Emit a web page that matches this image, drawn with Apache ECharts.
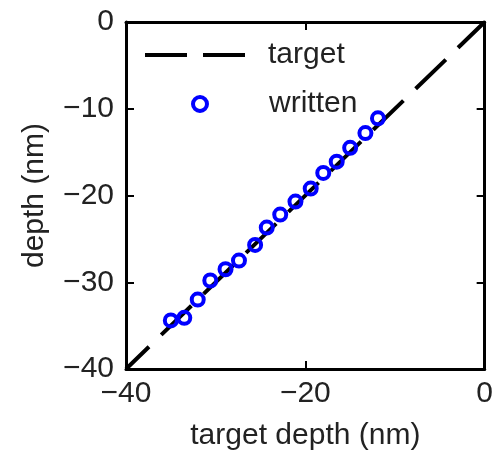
<!DOCTYPE html>
<html>
<head>
<meta charset="utf-8">
<script src="https://cdn.jsdelivr.net/npm/echarts@6/dist/echarts.min.js"></script>
<style>
    html, body { margin: 0; padding: 0; background: #fff; }
    #chart { width: 496px; height: 456px; }
</style>
</head>
<body>
<div id="chart"></div>
<script>
// target depth vs written depth (nm)
let targetX = [-40, 0];
let targetY = [-40, 0];
let writtenX = [-35.0, -33.5, -32.0, -30.6, -28.9, -27.4, -25.6, -24.3, -22.8, -21.1, -19.4, -18.0, -16.5, -15.0, -13.3, -11.9];
let writtenY = [-34.4, -34.1, -32.0, -29.8, -28.5, -27.5, -25.7, -23.7, -22.2, -20.7, -19.2, -17.4, -16.1, -14.5, -12.8, -11.1];

let font = 'Liberation Sans, Arial, Helvetica, sans-serif';
let fmt = v => String(v).replace('-', '\u2212');

let chart = echarts.init(document.getElementById('chart'));

let tickIn = { show: true, inside: true, length: 8, lineStyle: { color: '#000', width: 2 } };
let boxLine = { show: true, onZero: false, lineStyle: { color: '#000', width: 3 } };

let option = {
    animation: false,
    backgroundColor: '#fff',
    grid: { left: 126, right: 10, top: 22, bottom: 84 },
    legend: [
        {
            data: [{ name: 'target', icon: 'path://M0,0 L42,0 L42,4 L0,4 Z M58,0 L100,0 L100,4 L58,4 Z' }],
            left: 140,
            top: 35,
            itemWidth: 100,
            itemHeight: 4,
            itemStyle: { color: '#000' },
            textStyle: { fontFamily: font, fontSize: 30, color: '#222', padding: [0, 0, 0, 18] }
        },
        {
            data: ['written'],
            left: 186,
            top: 84,
            itemWidth: 14,
            itemHeight: 14,
            itemStyle: { color: 'rgba(0,0,0,0)', borderColor: '#0000ff', borderWidth: 4 },
            textStyle: { fontFamily: font, fontSize: 30, color: '#222', padding: [0, 0, 0, 57] }
        }
    ],
    xAxis: [
        {
            type: 'value', min: -40, max: 0, interval: 20,
            axisLine: boxLine, axisTick: tickIn, splitLine: { show: false },
            axisLabel: { color: '#222', fontFamily: font, fontSize: 30, margin: 10, formatter: fmt },
            name: 'target depth (nm)', nameLocation: 'middle', nameGap: 52,
            nameTextStyle: { color: '#222', fontFamily: font, fontSize: 30 }
        },
        {
            type: 'value', position: 'top', min: -40, max: 0, interval: 20,
            axisLine: boxLine, axisTick: tickIn, axisLabel: { show: false }, splitLine: { show: false }
        }
    ],
    yAxis: [
        {
            type: 'value', min: -40, max: 0, interval: 10,
            axisLine: boxLine, axisTick: tickIn, splitLine: { show: false },
            axisLabel: { color: '#222', fontFamily: font, fontSize: 30, margin: 12, formatter: fmt },
            name: 'depth (nm)', nameLocation: 'middle', nameGap: 76,
            nameTextStyle: { color: '#222', fontFamily: font, fontSize: 30 }
        },
        {
            type: 'value', position: 'right', min: -40, max: 0, interval: 10,
            axisLine: boxLine, axisTick: tickIn, axisLabel: { show: false }, splitLine: { show: false }
        }
    ],
    series: [
        {
            name: 'target',
            type: 'line',
            symbol: 'none',
            data: targetX.map((x, i) => [x, targetY[i]]),
            lineStyle: { color: '#000', width: 4, type: [42, 17], dashOffset: 10 },
            itemStyle: { color: '#000' },
            z: 2
        },
        {
            name: 'written',
            type: 'scatter',
            symbol: 'circle',
            symbolSize: 12,
            data: writtenX.map((x, i) => [x, writtenY[i]]),
            itemStyle: { color: 'rgba(0,0,0,0)', borderColor: '#0000ff', borderWidth: 4, opacity: 1 },
            z: 3
        }
    ]
};

chart.setOption(option);
</script>
</body>
</html>
